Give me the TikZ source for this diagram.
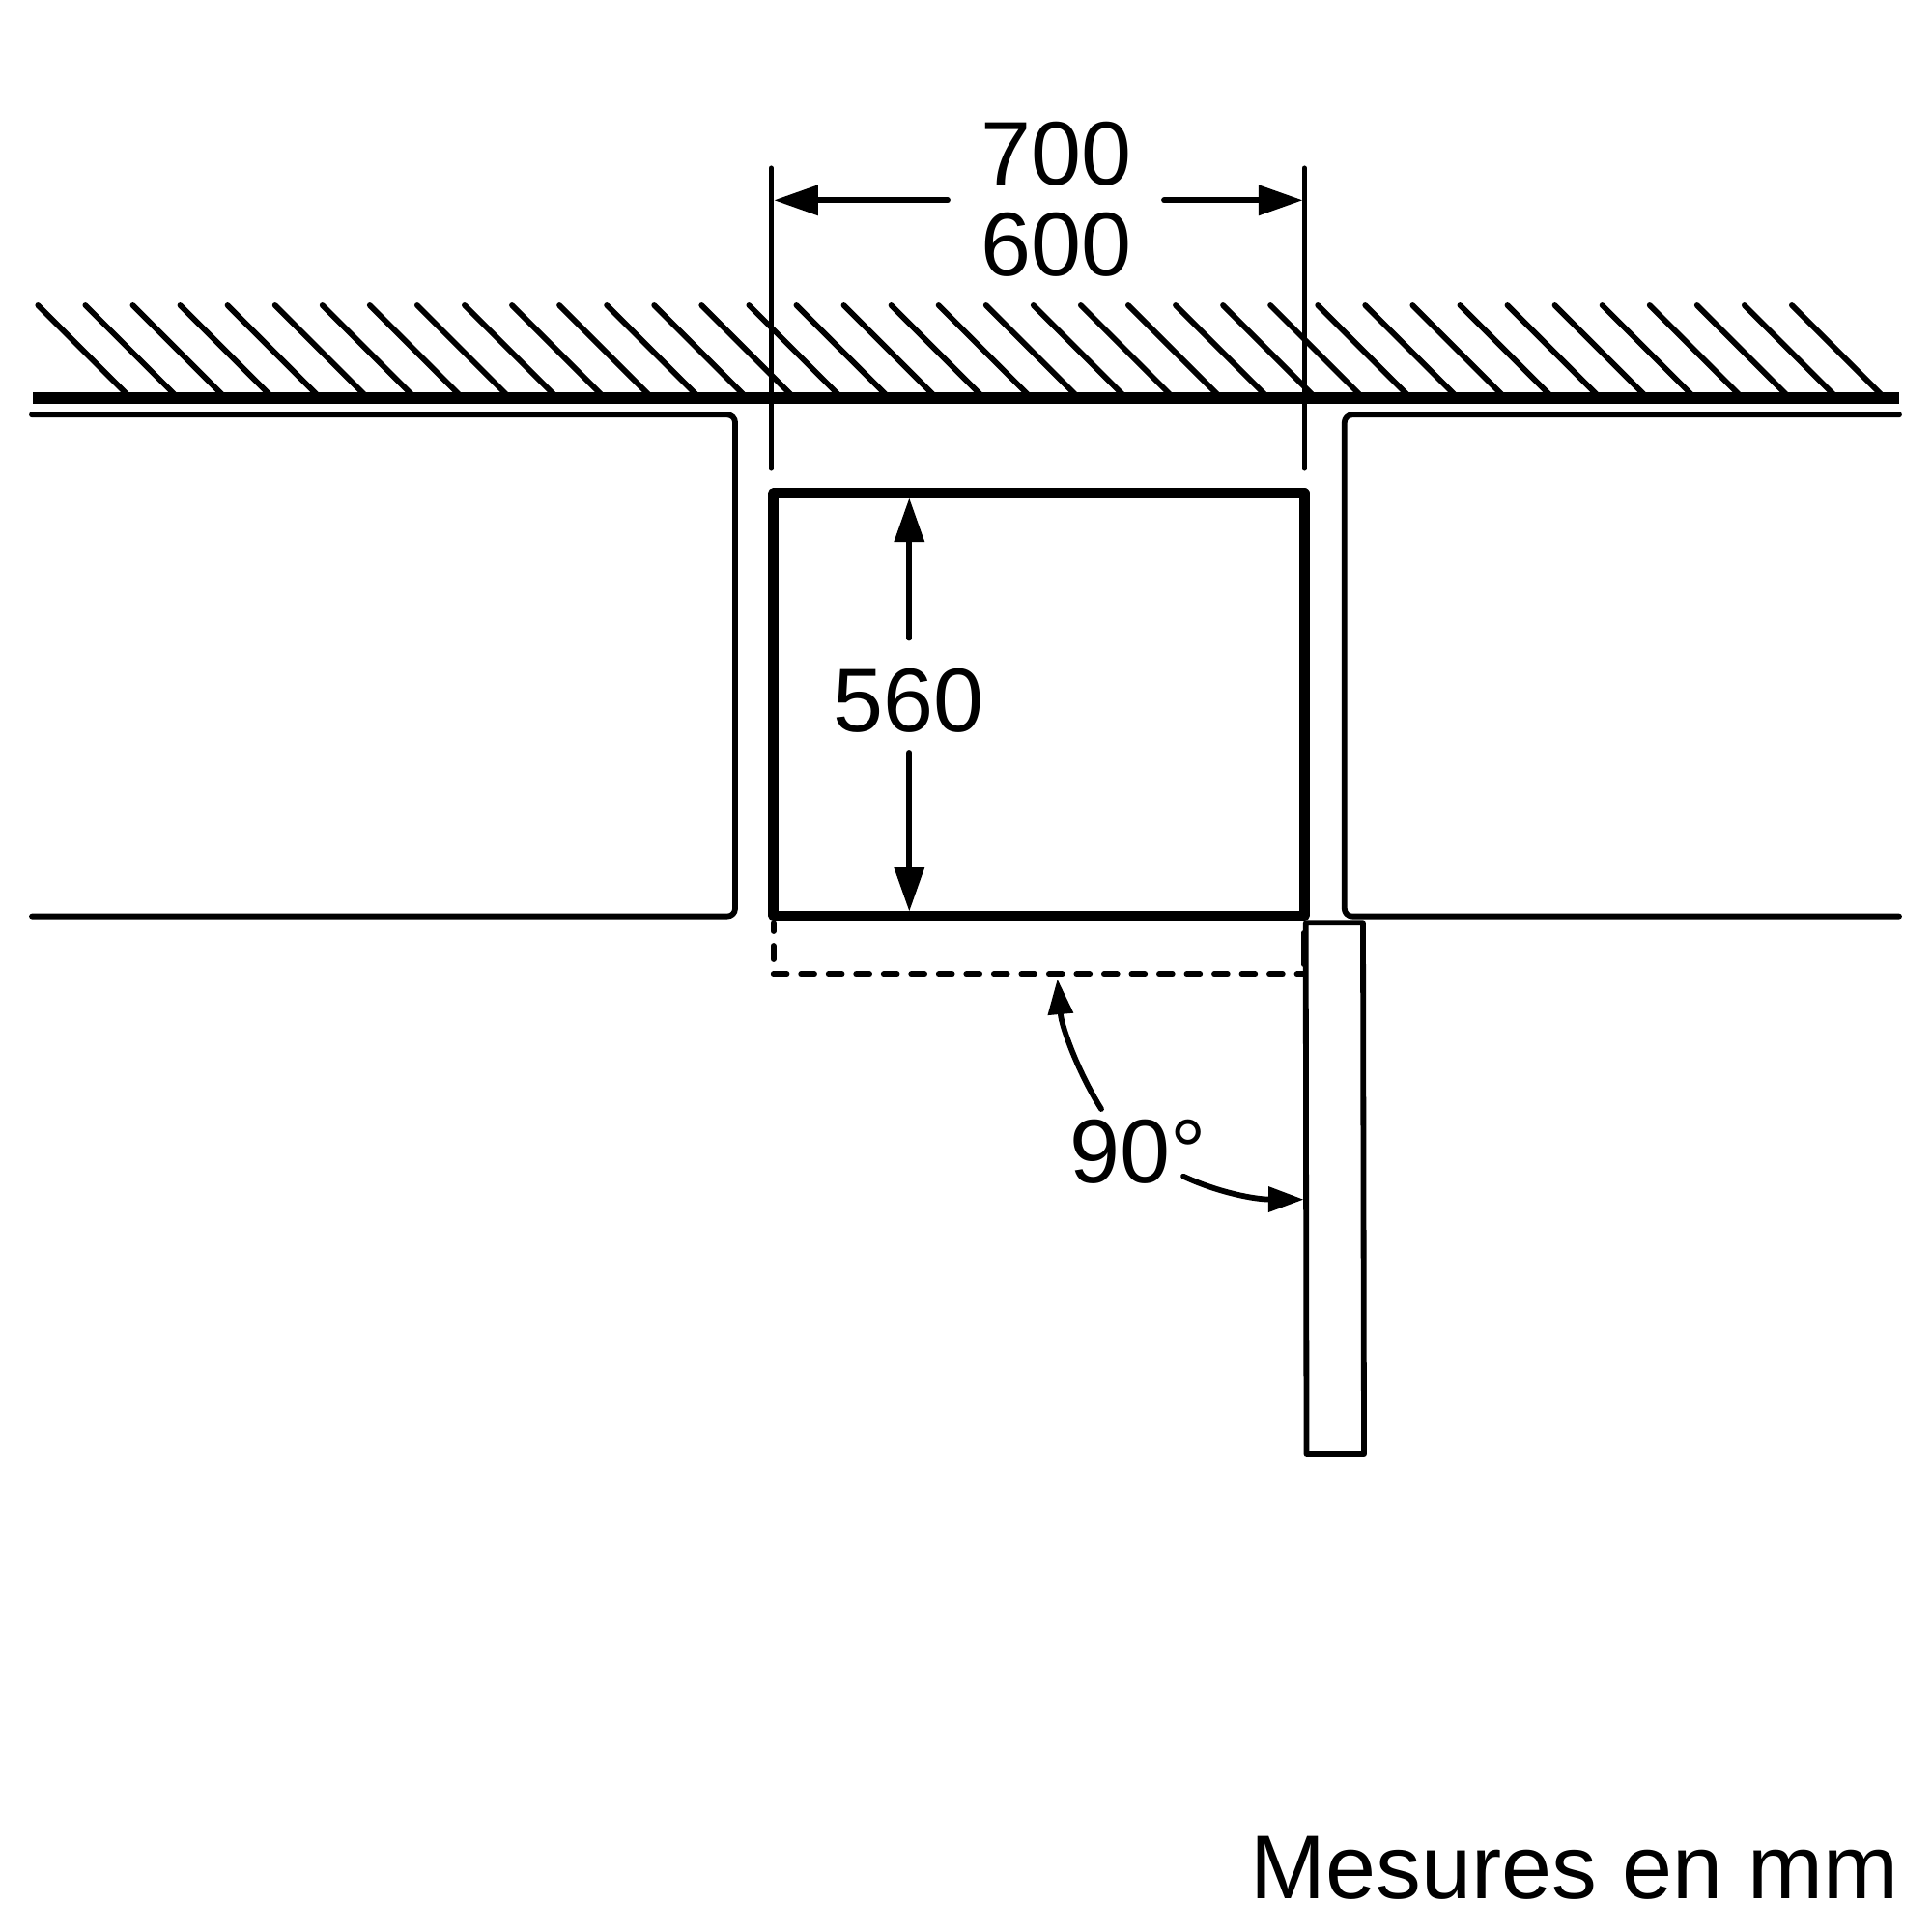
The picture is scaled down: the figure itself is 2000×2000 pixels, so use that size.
\documentclass[tikz,border=0pt]{standalone}
\usepackage{fontspec}
\setmainfont{Liberation Sans}
\usetikzlibrary{arrows.meta}
\tikzset{
  px/.style={x=0.01cm,y=-0.01cm},
  thin line/.style={line width=0.58mm,line cap=round,line join=round},
  ext line/.style={line width=0.5mm,line cap=round},
  heavy line/.style={line width=1.05mm,line join=round,line cap=round},
  bar line/.style={line width=1.2mm,line cap=butt},
  dash line/.style={thin line,dash pattern=on 1.38mm off 1.47mm},
  dim tip/.style={-{Triangle[length=4.5mm,width=3.2mm,line width=0pt]}},
  angle tip/.style={-{Triangle[length=3.6mm,width=2.7mm,line width=0pt]}},
  label/.style={inner sep=0pt,anchor=base,font=\fontsize{26.6pt}{26.6pt}\selectfont}
}
\begin{document}
\begin{tikzpicture}[px]
\useasboundingbox (0,0) rectangle (2000,2000);
% hatching
\foreach \i in {0,...,37}{
  \pgfmathsetmacro{\hx}{39.3+\i*49.07}
  \draw[thin line] (\hx,316) -- ++(94,94);
}
\coordinate (barL) at (34.3,412.3);
\coordinate (barR) at (1966,412.3);
\draw[bar line] (barL) -- (barR);
% left wall
\coordinate (wlT) at (33,429.3);
\coordinate (wlTC) at (761,429.3);
\coordinate (wlBC) at (761,948.6);
\coordinate (wlB) at (33,948.6);
\draw[thin line,rounded corners=0.8mm] (wlT) -- (wlTC) -- (wlBC) -- (wlB);
% right wall
\coordinate (wrT) at (1966,429.3);
\coordinate (wrTC) at (1391.8,429.3);
\coordinate (wrBC) at (1391.8,948.6);
\coordinate (wrB) at (1966,948.6);
\draw[thin line,rounded corners=0.8mm] (wrT) -- (wrTC) -- (wrBC) -- (wrB);
% extension lines
\coordinate (eLt) at (798.2,174);
\coordinate (eLb) at (798.2,485);
\coordinate (eRt) at (1350.4,174);
\coordinate (eRb) at (1350.4,485);
\draw[ext line] (eLt) -- (eLb);
\draw[ext line] (eRt) -- (eRb);
% appliance box
\coordinate (bTL) at (800.5,510.7);
\coordinate (bTR) at (1350.3,510.7);
\coordinate (bBR) at (1350.3,948);
\coordinate (bBL) at (800.5,948);
\draw[heavy line] (bTL) -- (bTR) -- (bBR) -- (bBL) -- cycle;
% dashed swing outline
\coordinate (dA1) at (800.7,955);
\coordinate (dA2) at (800.7,964);
\coordinate (dB1) at (800.7,979);
\coordinate (dB2) at (800.7,993);
\coordinate (dBL) at (800.7,1008.3);
\coordinate (dBR) at (1351,1008.3);
\coordinate (dC1) at (1349.5,966);
\coordinate (dC2) at (1349.5,998);
\draw[thin line] (dA1) -- (dA2);
\draw[thin line] (dB1) -- (dB2);
\draw[dash line] (dBL) -- (dBR);
\draw[thin line] (dC1) -- (dC2);
% door
\coordinate (dr1) at (1351.7,955.3);
\coordinate (dr2) at (1411,955.3);
\coordinate (dr3) at (1412,1505);
\coordinate (dr4) at (1352.5,1505);
\draw[thin line] (dr1) -- (dr2) -- (dr3) -- (dr4) -- cycle;
% labels
\node[label] (t700) at (1093.5,191.5) {700};
\node[label] (t600) at (1093.5,285.3) {600};
\node[label] (t560) at (940.5,757) {560};
\node[label] (t90) at (1178.5,1224.7) {90°};
\node[label,anchor=base east] (tmm) at (1966,1965.7) {Mesures en mm};
% dimension arrows
\coordinate (a1s) at (981,207.3);
\coordinate (a1e) at (801.8,207.3);
\coordinate (a2s) at (1205,207.3);
\coordinate (a2e) at (1348,207.3);
\draw[thin line,dim tip] (a1s) -- (a1e);
\draw[thin line,dim tip] (a2s) -- (a2e);
\coordinate (a3s) at (941.3,660.5);
\coordinate (a3e) at (941.3,516);
\coordinate (a4s) at (941.3,779);
\coordinate (a4e) at (941.3,943);
\draw[thin line,dim tip] (a3s) -- (a3e);
\draw[thin line,dim tip] (a4s) -- (a4e);
% 90 degree arrows
\coordinate (u1) at (1140,1148);
\coordinate (u2) at (1094.7,1014);
\coordinate (r1) at (1225,1217.7);
\coordinate (r2) at (1349,1241.7);
\draw[thin line,angle tip] (u1) .. controls (1115,1108) and (1099,1062) .. (u2);
\draw[thin line,angle tip] (r1) .. controls (1262,1235) and (1300,1241.5) .. (r2);
\end{tikzpicture}
\end{document}
